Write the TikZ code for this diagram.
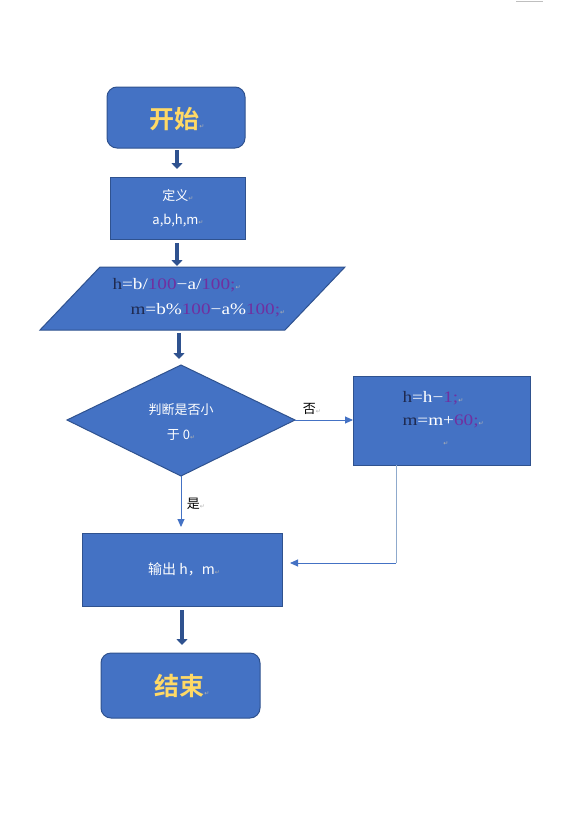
\documentclass[tikz,border=0pt]{standalone}
\usepackage{fontspec}
\setmainfont{Liberation Serif}
\newfontfamily\cjk{Noto Sans CJK SC}
\newfontfamily\cjkb{Noto Sans CJK SC Bold}
\newfontfamily\djv{DejaVu Sans}
\newfontfamily\codef[FakeStretch=1.2]{Liberation Serif}
\usetikzlibrary{shapes.geometric,arrows.meta}
\definecolor{fillb}{HTML}{4472C4}
\definecolor{edgeb}{HTML}{2F528F}
\definecolor{ylw}{HTML}{FFD966}
\definecolor{purp}{HTML}{7030A0}
\definecolor{navy}{HTML}{1F2A50}
\definecolor{lineb}{HTML}{4472C4}
\definecolor{greyb}{HTML}{8FAACC}
\newcommand{\parmark}{{\djv\fontsize{6}{6}\selectfont\color{gray!60}↵}}
\tikzset{
  blk/.style={draw=edgeb, line width=1pt, fill=fillb},
  thick arr/.style={draw=edgeb, line width=3.5pt, -{Triangle[width=11pt,length=6pt]}},
  thin arr/.style={draw=lineb, line width=0.9pt, -{Triangle[width=7pt,length=8pt]}},
  wtxt/.style={text=white, font=\cjk\fontsize{13}{20}\selectfont, align=center},
  ytxt/.style={text=ylw, font=\cjkb\fontsize{25}{27}\selectfont},
  code/.style={anchor=west, font=\codef\fontsize{16}{18}\selectfont},
  lbl/.style={text=black, font=\cjk\fontsize{13}{15}\selectfont}
}
\begin{document}
\begin{tikzpicture}[x=1pt,y=-1pt]
\useasboundingbox (0,0) rectangle (575,822);
\draw[gray!50, line width=1pt] (516,1) -- (543,1);
% start
\draw[blk, rounded corners=10pt] (107,87) rectangle (245,148);
\node[ytxt] (start) at (177,119) {开始\parmark};
% define
\draw[blk] (110,177) rectangle (245,239);
\node[wtxt, font=\cjk\fontsize{13}{24}\selectfont] (def) at (178,208) {定义\parmark\\a,b,h,m\parmark};
% parallelogram
\draw[blk] (100,267) -- (345,267) -- (285,330) -- (40,330) -- cycle;
\node[code] (l1) at (109,285) {\textcolor{navy}{h}\textcolor{white}{=b/}\textcolor{purp}{100}\textcolor{white}{−a/}\textcolor{purp}{100}\textcolor{purp}{;}\parmark};
\node[code] (l2) at (127,310) {\textcolor{navy}{m}\textcolor{white}{=b\%}\textcolor{purp}{100}\textcolor{white}{−a\%}\textcolor{purp}{100}\textcolor{purp}{;}\parmark};
% diamond
\draw[blk] (67,420) -- (181,365) -- (295,420) -- (181,476) -- cycle;
\node[wtxt, font=\cjk\fontsize{13}{25}\selectfont] (dec) at (181,422) {判断是否小\\于 0\parmark};
\coordinate (decR) at (295,420);
\coordinate (decB) at (181,476);
% right box
\draw[blk] (353,376) rectangle (530,465);
\node[code] (r1) at (399,398) {\textcolor{navy}{h}\textcolor{white}{=h−}\textcolor{purp}{1}\textcolor{purp}{;}\parmark};
\node[code] (r2) at (399,421) {\textcolor{navy}{m}\textcolor{white}{=m+}\textcolor{purp}{60}\textcolor{purp}{;}\parmark};
\node (r3) at (446,444) {\parmark};
\coordinate (boxL) at (353,420);
\coordinate (boxB) at (396,465);
% output box
\draw[blk] (82,533) rectangle (282,606);
\node[wtxt, font=\cjk\fontsize{14}{20}\selectfont] (out) at (184,569) {输出 h，m\parmark};
\coordinate (outT) at (181,527);
\coordinate (outR) at (290,563);
% end
\draw[blk, rounded corners=10pt] (101,653) rectangle (260,718);
\node[ytxt] (end) at (182,686) {结束\parmark};
% arrows
\coordinate (a1s) at (177,150); \coordinate (a1e) at (177,169);
\draw[thick arr] (a1s) -- (a1e);
\coordinate (a2s) at (177,243); \coordinate (a2e) at (177,266);
\draw[thick arr] (a2s) -- (a2e);
\coordinate (a3s) at (179,333); \coordinate (a3e) at (179,359);
\draw[thick arr] (a3s) -- (a3e);
\coordinate (a4s) at (182,610); \coordinate (a4e) at (182,645);
\draw[thick arr] (a4s) -- (a4e);
\draw[thin arr] (decR) -- (boxL);
\node[lbl] (no) at (312,409) {否\parmark};
\draw[thin arr] (decB) -- (outT);
\node[lbl] (yes) at (196,504) {是\parmark};
\coordinate (corner) at (396,563);
\draw[greyb, line width=0.9pt] (boxB) -- (corner);
\draw[thin arr] (corner) -- (outR);
\end{tikzpicture}
\end{document}
